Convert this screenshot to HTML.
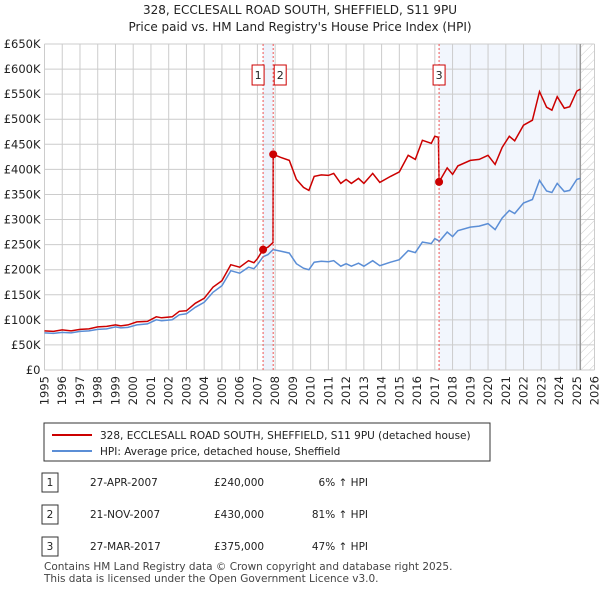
<!DOCTYPE html>
<html><head><meta charset="utf-8"><style>
body{margin:0;background:#fff;font-family:"DejaVu Sans","Liberation Sans",sans-serif;}
svg text{font-family:"DejaVu Sans","Liberation Sans",sans-serif;}
</style></head><body>
<svg width="600" height="590" xmlns="http://www.w3.org/2000/svg">
<defs><pattern id="hatch" width="6" height="6" patternUnits="userSpaceOnUse" patternTransform="rotate(45)"><line x1="0" y1="0" x2="0" y2="6" stroke="#ccc" stroke-width="1"/></pattern></defs>
<text x="300" y="14" text-anchor="middle" font-size="12" fill="#222">328, ECCLESALL ROAD SOUTH, SHEFFIELD, S11 9PU</text>
<text x="300" y="31" text-anchor="middle" font-size="12" fill="#222">Price paid vs. HM Land Registry's House Price Index (HPI)</text>
<g id="bg"></g><g id="grid"></g><g id="axes"></g><g id="series"></g><g id="marks"></g>
<g>
<rect x="44" y="423" width="446" height="38" fill="#fff" stroke="#333"/>
<line x1="52" y1="435" x2="92" y2="435" stroke="#cc0000" stroke-width="2"/>
<text x="100" y="439" font-size="10.5" fill="#222">328, ECCLESALL ROAD SOUTH, SHEFFIELD, S11 9PU (detached house)</text>
<line x1="52" y1="451" x2="92" y2="451" stroke="#5b8ed6" stroke-width="2"/>
<text x="100" y="455" font-size="10.5" fill="#222">HPI: Average price, detached house, Sheffield</text>
</g>
<g id="table"></g>
<text x="44" y="570" font-size="10.5" fill="#444">Contains HM Land Registry data © Crown copyright and database right 2025.</text>
<text x="44" y="582" font-size="10.5" fill="#444">This data is licensed under the Open Government Licence v3.0.</text>
</svg>
<script>
const dates=[1995.0,1995.5,1996.0,1996.5,1997.0,1997.5,1998.0,1998.5,1999.0,1999.3,1999.7,2000.2,2000.8,2001.3,2001.6,2002.2,2002.6,2003.0,2003.5,2004.0,2004.5,2005.0,2005.5,2006.0,2006.5,2006.8,2007.0,2007.32,2007.6,2007.88,2007.89,2008.3,2008.8,2009.2,2009.6,2009.9,2010.2,2010.6,2011.0,2011.3,2011.7,2012.0,2012.3,2012.7,2013.0,2013.5,2013.9,2014.5,2015.0,2015.5,2015.9,2016.3,2016.8,2017.0,2017.2,2017.24,2017.7,2018.0,2018.3,2019.0,2019.5,2020.0,2020.4,2020.8,2021.2,2021.5,2022.0,2022.5,2022.9,2023.3,2023.6,2023.9,2024.3,2024.6,2025.0,2025.2];
const hpi=[74,73,75,74,77,78,81,82,86,84,85,90,92,100,98,100,110,112,125,135,155,168,198,193,205,202,210,226,230,240,240,237,233,212,203,200,215,217,216,218,207,212,207,213,207,218,208,215,220,238,234,255,252,262,258,256,275,266,278,285,287,292,280,303,318,312,333,340,378,357,354,372,356,358,380,382];
const prop=[78,77,80,78,81,82,86,87,90,88,90,96,97,106,104,106,117,118,133,143,165,178,210,205,218,214,222,240,245,254,430,424,418,380,364,358,386,389,388,392,372,380,372,382,372,392,374,386,395,428,420,458,452,466,464,375,403,390,407,418,420,428,410,444,466,457,488,498,555,524,518,545,522,525,556,560];
const saleDates=[2007.32,2007.89,2017.24];
const salePrices=[240,430,375];
const saleLabels=["1","2","3"];
const saleDateText=["27-APR-2007","21-NOV-2007","27-MAR-2017"];
const salePriceText=["£240,000","£430,000","£375,000"];
const salePctText=["6% ↑ HPI","81% ↑ HPI","47% ↑ HPI"];
const yTicks=[0,50,100,150,200,250,300,350,400,450,500,550,600,650];
const yTickLabels=["£0","£50K","£100K","£150K","£200K","£250K","£300K","£350K","£400K","£450K","£500K","£550K","£600K","£650K"];
const xYears=[1995,1996,1997,1998,1999,2000,2001,2002,2003,2004,2005,2006,2007,2008,2009,2010,2011,2012,2013,2014,2015,2016,2017,2018,2019,2020,2021,2022,2023,2024,2025,2026];
const dataEnd=2025.2;

const L=44.5,R=594.5,T=44,B=370;
const X=d=>L+(d-1995)/(2026-1995)*(R-L);
const Y=v=>B-v/650*(B-T);
const NS="http://www.w3.org/2000/svg";
function mk(p,tag,at){const e=document.createElementNS(NS,tag);for(const k in at)e.setAttribute(k,at[k]);p.appendChild(e);return e;}
const bg=document.getElementById('bg'),grid=document.getElementById('grid'),axes=document.getElementById('axes'),series=document.getElementById('series'),marks=document.getElementById('marks'),table=document.getElementById('table');

let r=mk(bg,'rect',{x:X(saleDates[0]),y:T,width:X(saleDates[1])-X(saleDates[0]),height:B-T,fill:'#eef3fc'});


r=mk(bg,'rect',{x:X(saleDates[2]),y:T,width:X(dataEnd)-X(saleDates[2]),height:B-T,fill:'#f2f6fd'});


r=mk(bg,'rect',{x:X(dataEnd),y:T,width:R-X(dataEnd),height:B-T,fill:'url(#hatch)'});



yTicks.forEach((v,i)=>{
 let l=mk(grid,'line',{x1:L,x2:R,y1:Y(v),y2:Y(v),stroke:'#cccccc','stroke-width':1});
 
 
 let t=mk(axes,'text',{x:L-4,y:Y(v)+4,'text-anchor':'end','font-size':11.5,fill:'#222'});
 t.textContent=yTickLabels[i];
 
 
});
xYears.forEach(yr=>{
 let l=mk(grid,'line',{x1:X(yr),x2:X(yr),y1:T,y2:B,stroke:'#cccccc','stroke-width':1});
 
 
 let t=mk(axes,'text',{x:0,y:0,'text-anchor':'end','font-size':11.5,fill:'#222',transform:`translate(${X(yr)+4},${B+6}) rotate(-90)`});
 t.textContent=yr;
 
 
});
let el=mk(grid,'line',{x1:X(dataEnd),x2:X(dataEnd),y1:T,y2:B,stroke:'#999','stroke-width':1.5});



function path(vals){return vals.map((v,i)=>(i?'L':'M')+X(dates[i]).toFixed(1)+','+Y(v).toFixed(1)).join('');}
let p=mk(series,'path',{d:path(hpi),fill:'none',stroke:'#5b8ed6','stroke-width':1.5});


p=mk(series,'path',{d:path(prop),fill:'none',stroke:'#cc0000','stroke-width':1.5});



const boxOff=[-5,7,0];
saleDates.forEach((d,i)=>{
 let l=mk(marks,'line',{x1:X(d),x2:X(d),y1:T,y2:B,stroke:'#ee5555','stroke-width':1,'stroke-dasharray':'2,2'});
 
 
 let c=mk(marks,'circle',{cx:X(d),cy:Y(salePrices[i]),r:4,fill:'#cc0000'});
 
 
 let bx=X(d)+boxOff[i];
 let b=mk(marks,'rect',{x:bx-6,y:65,width:12,height:20,fill:'#fff',stroke:'#cc0000'});
 
 
 let t=mk(marks,'text',{x:bx,y:79,'text-anchor':'middle','font-size':11,fill:'#222'});
 t.textContent=saleLabels[i];
 
 
});

saleLabels.forEach((lab,i)=>{
 const y=482+i*32;
 let b=mk(table,'rect',{x:42,y:y-9,width:16,height:19,fill:'#fff',stroke:'#333'});
 
 
 const cells=[[50,lab,'middle'],[90,saleDateText[i],'start'],[214,salePriceText[i],'start'],[368,salePctText[i],'end']];
 cells.forEach(([x,s,a],j)=>{
  let t=mk(table,'text',{x:x,y:y+4,'text-anchor':a,'font-size':10.5,fill:'#222'});
  t.textContent=s;
  
  
 });
});
</script>
</body></html>
